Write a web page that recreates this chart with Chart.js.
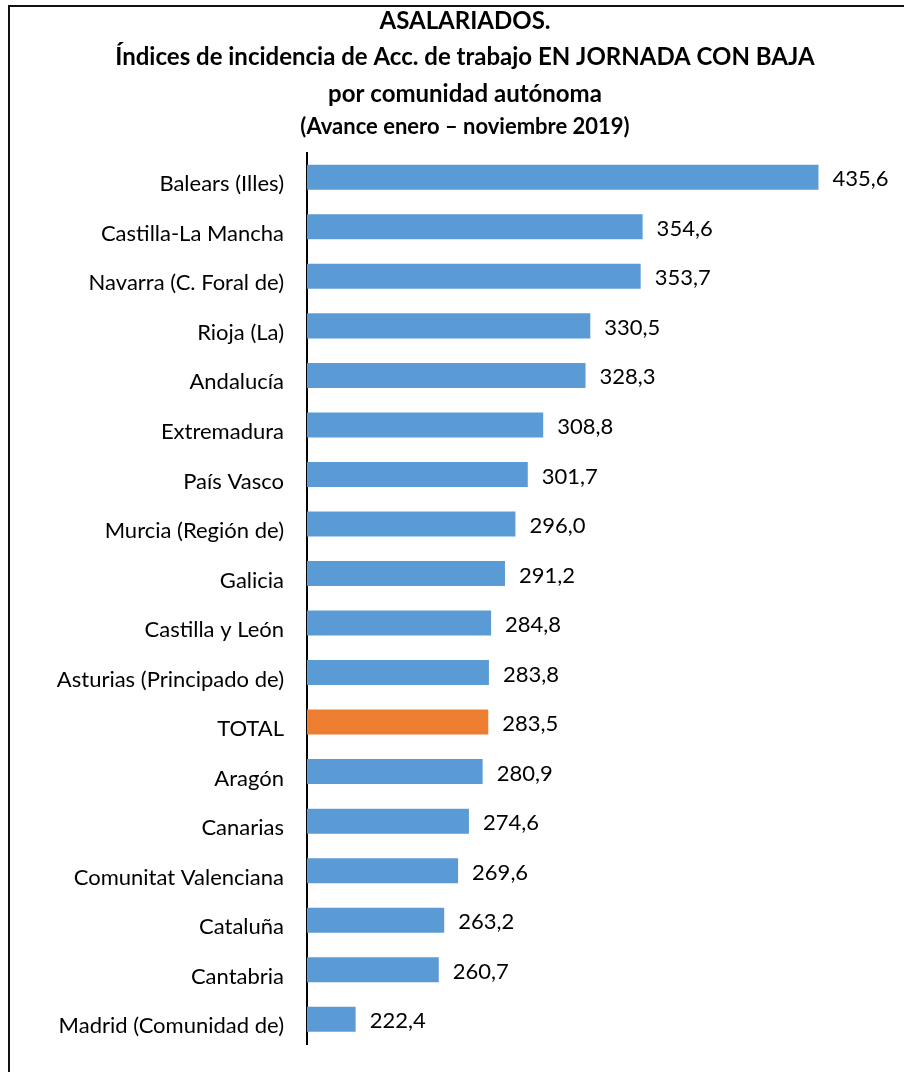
<!DOCTYPE html>
<html>
<head>
<meta charset="utf-8">
<script src="https://cdn.jsdelivr.net/npm/chart.js@4.4.1/dist/chart.umd.min.js"></script>
<style>
  html, body { margin: 0; padding: 0; background: #fff; overflow: hidden; }
  #wrap { position: relative; width: 904px; height: 1072px; }
  #frame { position: absolute; left: 8px; top: 5px; right: -10px; bottom: -10px;
           border-top: 2px solid #111; border-left: 2px solid #111; }
  canvas { position: absolute; left: 0; top: 0; }
</style>
</head>
<body>
<div id="wrap">
  <div id="frame"></div>
  <canvas id="chart" width="904" height="1072"></canvas>
</div>
<script>
const regions = [
  'Balears (Illes)', 'Castilla-La Mancha', 'Navarra (C. Foral de)', 'Rioja (La)',
  'Andalucía', 'Extremadura', 'País Vasco', 'Murcia (Región de)', 'Galicia',
  'Castilla y León', 'Asturias (Principado de)', 'TOTAL', 'Aragón', 'Canarias',
  'Comunitat Valenciana', 'Cataluña', 'Cantabria', 'Madrid (Comunidad de)'
];
const indices = [
  435.6, 354.6, 353.7, 330.5, 328.3, 308.8, 301.7, 296.0, 291.2,
  284.8, 283.8, 283.5, 280.9, 274.6, 269.6, 263.2, 260.7, 222.4
];
const titleLines = [
  'ASALARIADOS.',
  'Índices de incidencia de Acc. de trabajo EN JORNADA CON BAJA',
  'por comunidad autónoma'
];
const subtitleText = '(Avance enero – noviembre 2019)';

const BLUE = '#5B9BD5';
const ORANGE = '#ED7D31';
const FONT = 'Lato, "Open Sans", sans-serif';

const barColors = regions.map(r => r === 'TOTAL' ? ORANGE : BLUE);

// value labels to the right of each bar, Excel style "435,6"
const valueLabels = {
  id: 'valueLabels',
  afterDatasetsDraw(chart) {
    const { ctx } = chart;
    const meta = chart.getDatasetMeta(0);
    ctx.save();
    ctx.font = '22px ' + FONT;
    ctx.fillStyle = '#000';
    ctx.textAlign = 'left';
    ctx.textBaseline = 'middle';
    meta.data.forEach((bar, i) => {
      const txt = indices[i].toFixed(1).replace('.', ',');
      ctx.fillText(txt, bar.x + 14, bar.y + 2);
    });
    ctx.restore();
  }
};

new Chart(document.getElementById('chart'), {
  type: 'bar',
  data: {
    labels: regions,
    datasets: [{
      data: indices,
      backgroundColor: barColors,
      borderWidth: 0,
      barPercentage: 0.505,
      categoryPercentage: 1
    }]
  },
  options: {
    indexAxis: 'y',
    responsive: false,
    animation: false,
    layout: { padding: { left: 26, right: 0, top: 0, bottom: 28 } },
    plugins: {
      legend: { display: false },
      tooltip: { enabled: false },
      title: {
        display: true,
        text: titleLines,
        color: '#000',
        font: { family: FONT, size: 24, weight: 'bold', lineHeight: 1.52 },
        padding: { top: 3, bottom: 0 }
      },
      subtitle: {
        display: true,
        text: subtitleText,
        color: '#000',
        font: { family: FONT, size: 22, weight: 'bold', lineHeight: 1.3 },
        padding: { top: 0, bottom: 11.5 }
      }
    },
    scales: {
      x: {
        display: false,
        min: 200,
        max: 475
      },
      y: {
        grid: { display: false, drawTicks: false },
        border: { display: true, color: '#000', width: 2 },
        ticks: {
          color: '#000',
          padding: 23,
          labelOffset: 7,
          font: { family: FONT, size: 22 }
        },
        afterFit(scale) {
          scale.width = 281;
          scale.paddingTop = 0;
          scale.paddingBottom = 0;
        }
      }
    }
  },
  plugins: [valueLabels]
});
</script>
</body>
</html>
